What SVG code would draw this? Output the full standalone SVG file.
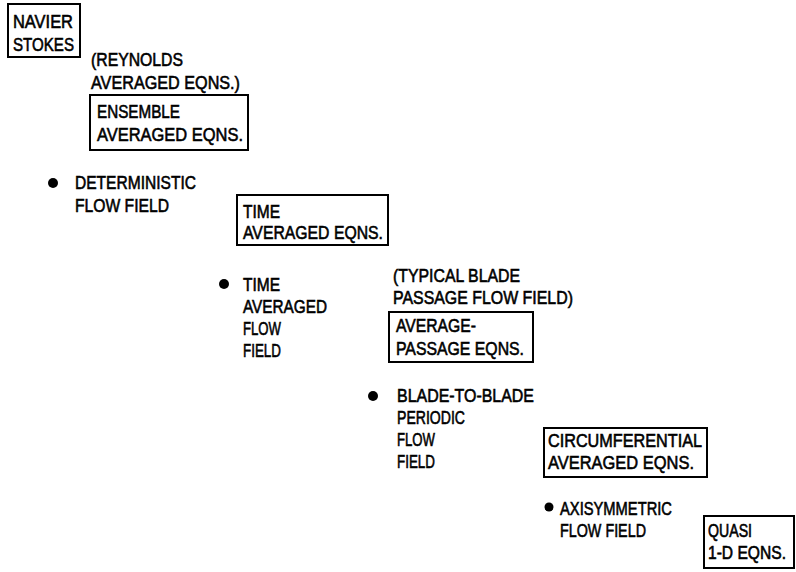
<svg xmlns="http://www.w3.org/2000/svg" width="796" height="572" viewBox="0 0 796 572">
<style>
.t{font-family:"Liberation Sans",Arial,sans-serif;font-size:19px;fill:#000;stroke:#000;stroke-width:0.6px;}
.s{font-size:17.5px;}
.box{fill:none;stroke:#000;stroke-width:2;}
.dot{fill:#000;}
</style>
<rect width="796" height="572" fill="#fff"/>
<g id="navier-stokes">
<rect class="box" x="8" y="4" width="72" height="53"/>
<text class="t" x="13" y="28" textLength="60" lengthAdjust="spacingAndGlyphs">NAVIER</text>
<text class="t" x="13" y="51" textLength="61" lengthAdjust="spacingAndGlyphs">STOKES</text>
</g>
<g id="reynolds-note">
<text class="t" x="91" y="66" textLength="92" lengthAdjust="spacingAndGlyphs">(REYNOLDS</text>
<text class="t" x="91" y="89" textLength="149" lengthAdjust="spacingAndGlyphs">AVERAGED EQNS.)</text>
</g>
<g id="ensemble">
<rect class="box" x="90" y="95" width="158" height="55"/>
<text class="t" x="97" y="118" textLength="83" lengthAdjust="spacingAndGlyphs">ENSEMBLE</text>
<text class="t" x="97" y="141" textLength="146" lengthAdjust="spacingAndGlyphs">AVERAGED EQNS.</text>
</g>
<g id="deterministic">
<circle class="dot" cx="53" cy="183" r="5"/>
<text class="t" x="75" y="189" textLength="121" lengthAdjust="spacingAndGlyphs">DETERMINISTIC</text>
<text class="t" x="75" y="212" textLength="94" lengthAdjust="spacingAndGlyphs">FLOW FIELD</text>
</g>
<g id="time-averaged-eqns">
<rect class="box" x="237" y="195" width="151" height="50"/>
<text class="t" x="243" y="218" textLength="37" lengthAdjust="spacingAndGlyphs">TIME</text>
<text class="t" x="243" y="239" textLength="140" lengthAdjust="spacingAndGlyphs">AVERAGED EQNS.</text>
</g>
<g id="time-averaged-flow">
<circle class="dot" cx="224" cy="284" r="5"/>
<text class="t" x="243" y="291" textLength="37" lengthAdjust="spacingAndGlyphs">TIME</text>
<text class="t" x="243" y="313" textLength="84" lengthAdjust="spacingAndGlyphs">AVERAGED</text>
<text class="t" x="243" y="335" textLength="38" lengthAdjust="spacingAndGlyphs">FLOW</text>
<text class="t" x="243" y="357" textLength="38" lengthAdjust="spacingAndGlyphs">FIELD</text>
</g>
<g id="typical-blade-note">
<text class="t" x="393" y="282" textLength="127" lengthAdjust="spacingAndGlyphs">(TYPICAL BLADE</text>
<text class="t" x="393" y="304" textLength="180" lengthAdjust="spacingAndGlyphs">PASSAGE FLOW FIELD)</text>
</g>
<g id="average-passage">
<rect class="box" x="389" y="312" width="144" height="50"/>
<text class="t" x="396" y="332" textLength="80" lengthAdjust="spacingAndGlyphs">AVERAGE-</text>
<text class="t" x="396" y="355" textLength="128" lengthAdjust="spacingAndGlyphs">PASSAGE EQNS.</text>
</g>
<g id="blade-to-blade">
<circle class="dot" cx="373" cy="396" r="5"/>
<text class="t" x="397" y="402" textLength="137" lengthAdjust="spacingAndGlyphs">BLADE-TO-BLADE</text>
<text class="t" x="397" y="424" textLength="68" lengthAdjust="spacingAndGlyphs">PERIODIC</text>
<text class="t" x="397" y="446" textLength="38" lengthAdjust="spacingAndGlyphs">FLOW</text>
<text class="t" x="397" y="468" textLength="38" lengthAdjust="spacingAndGlyphs">FIELD</text>
</g>
<g id="circumferential">
<rect class="box" x="544" y="428" width="163" height="49"/>
<text class="t" x="548" y="447" textLength="154" lengthAdjust="spacingAndGlyphs">CIRCUMFERENTIAL</text>
<text class="t" x="548" y="469" textLength="146" lengthAdjust="spacingAndGlyphs">AVERAGED EQNS.</text>
</g>
<g id="axisymmetric">
<circle class="dot" cx="549" cy="507" r="4.5"/>
<text class="t" x="560" y="515" textLength="112" lengthAdjust="spacingAndGlyphs">AXISYMMETRIC</text>
<text class="t" x="560" y="537" textLength="86" lengthAdjust="spacingAndGlyphs">FLOW FIELD</text>
</g>
<g id="quasi-1d">
<rect class="box" x="704" y="516" width="90" height="52"/>
<text class="t s" x="708" y="537" textLength="44" lengthAdjust="spacingAndGlyphs">QUASI</text>
<text class="t s" x="708" y="559" textLength="78" lengthAdjust="spacingAndGlyphs">1-D EQNS.</text>
</g>
</svg>
